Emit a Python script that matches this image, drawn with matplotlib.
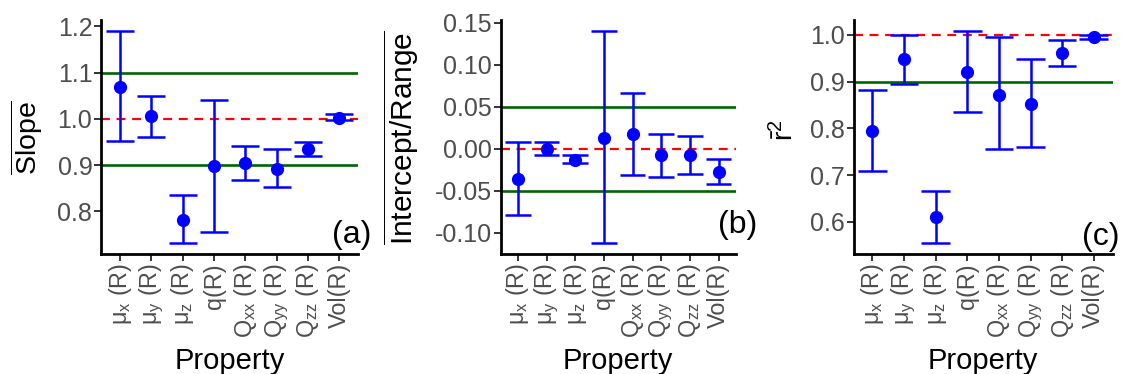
import matplotlib
matplotlib.use('Agg')
import matplotlib.pyplot as plt
import numpy as np

plt.rcParams['font.family'] = ['Liberation Sans', 'DejaVu Sans']
plt.rcParams['mathtext.fontset'] = 'custom'
plt.rcParams['mathtext.rm'] = 'Liberation Sans'
plt.rcParams['mathtext.it'] = 'Liberation Sans:italic'
plt.rcParams['mathtext.bf'] = 'Liberation Sans:bold'

# --- data ---
properties = ['μ$_\\mathregular{x}$ (R)', 'μ$_\\mathregular{y}$ (R)', 'μ$_\\mathregular{z}$ (R)',
              'q(R)', 'Q$_\\mathregular{xx}$ (R)', 'Q$_\\mathregular{yy}$ (R)',
              'Q$_\\mathregular{zz}$ (R)', 'Vol(R)']

slope_mean = [1.070, 1.007, 0.781, 0.898, 0.905, 0.892, 0.934, 1.003]
slope_low = [0.952, 0.962, 0.731, 0.755, 0.868, 0.853, 0.920, 0.997]
slope_high = [1.190, 1.050, 0.835, 1.042, 0.941, 0.935, 0.950, 1.011]

icpt_mean = [-0.0357, 0.000, -0.013, 0.013, 0.0174, -0.008, -0.008, -0.0278]
icpt_low = [-0.0786, -0.008, -0.0175, -0.1127, -0.0318, -0.0333, -0.030, -0.042]
icpt_high = [0.0079, 0.008, -0.008, 0.140, 0.0658, 0.018, 0.0146, -0.012]

r2_mean = [0.795, 0.948, 0.610, 0.921, 0.872, 0.853, 0.961, 0.995]
r2_low = [0.709, 0.894, 0.554, 0.835, 0.755, 0.760, 0.934, 0.991]
r2_high = [0.882, 1.000, 0.667, 1.008, 0.995, 0.949, 0.989, 1.000]

BLUE = '#0000FF'
GREEN = '#006400'
RED = '#FF0000'
GREY = '#4D4D4D'


def draw_panel(ax, mean, low, high, green_lines, ideal, ylabel, yticks, yfmt,
               tag, tag_pos, ylabel_pos, ylabel_size=20):
    x = np.arange(1, len(mean) + 1)
    for g in green_lines:
        ax.axhline(g, color=GREEN, lw=1.9, zorder=1)
    ax.axhline(ideal, color=RED, lw=1.6, ls=(0, (4, 3)), zorder=2)
    ax.vlines(x, low, high, color=BLUE, lw=1.8, zorder=3)
    ax.hlines(low, x - 0.45, x + 0.45, color=BLUE, lw=1.8, zorder=3)
    ax.hlines(high, x - 0.45, x + 0.45, color=BLUE, lw=1.8, zorder=3)
    ax.plot(x, mean, 'o', color=BLUE, ms=8.5, zorder=4)

    rng = max(high) - min(low)
    ax.set_ylim(min(low) - 0.05 * rng, max(high) + 0.05 * rng)
    ax.set_xlim(0.4, len(mean) + 0.6)

    ax.set_xticks(x)
    ax.set_xticklabels(properties, rotation=90, ha='center', va='top')
    ax.set_yticks(yticks)
    ax.set_yticklabels([yfmt.format(v) for v in yticks])

    for s in ['top', 'right']:
        ax.spines[s].set_visible(False)
    for s in ['left', 'bottom']:
        ax.spines[s].set_linewidth(2.0)
        ax.spines[s].set_color('black')
    ax.tick_params(axis='both', colors='#333333', labelcolor=GREY,
                   length=5, width=1.4, pad=1.5)
    ax.tick_params(axis='x', labelsize=16.8)
    ax.tick_params(axis='y', labelsize=18)

    ax.set_ylabel(ylabel, fontsize=ylabel_size, color='black')
    ax.yaxis.set_label_coords(*ylabel_pos)
    ax.set_xlabel('Property', fontsize=21, color='black')
    ax.xaxis.set_label_coords(0.5, -0.40)

    ax.text(tag_pos[0], tag_pos[1], tag, transform=ax.transAxes,
            ha='right', va='baseline', fontsize=23, color='black')


fig = plt.figure(figsize=(11.22, 3.74), dpi=100)
bottom = 0.3209
height = 0.9452 - bottom
ax_a = fig.add_axes([0.0903, bottom, 0.2288, height])
ax_b = fig.add_axes([0.4463, bottom, 0.2094, height])
ax_c = fig.add_axes([0.7607, bottom, 0.2310, height])

draw_panel(ax_a, slope_mean, slope_low, slope_high, [0.9, 1.1], 1.0,
           r'$\overline{\mathrm{Slope}}$', [0.8, 0.9, 1.0, 1.1, 1.2], '{:.1f}',
           '(a)', (1.051, 0.047), (-0.219, 0.5), 20.5)
draw_panel(ax_b, icpt_mean, icpt_low, icpt_high, [-0.05, 0.05], 0.0,
           r'$\overline{\mathrm{Intercept/Range}}$',
           [-0.10, -0.05, 0.0, 0.05, 0.10, 0.15], '{:.2f}',
           '(b)', (1.091, 0.089), (-0.335, 0.5), 21.5)
draw_panel(ax_c, r2_mean, r2_low, r2_high, [0.9], 1.0,
           r'$\bar{\mathrm{r}}^{2}$', [0.6, 0.7, 0.8, 0.9, 1.0], '{:.1f}',
           '(c)', (1.028, 0.039), (-0.21, 0.53), 20.5)

fig.savefig('out.png', dpi=100)
